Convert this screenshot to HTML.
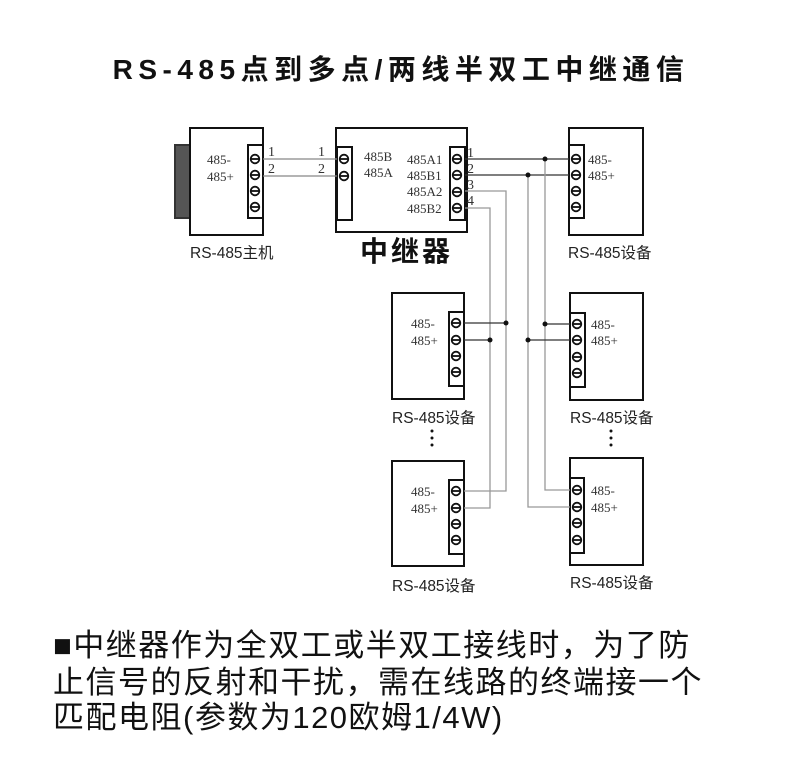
<!DOCTYPE html>
<html><head><meta charset="utf-8"><style>
body{margin:0;background:#fff;width:790px;height:760px;overflow:hidden}
svg{position:absolute;left:0;top:0}
.t{font-family:"Liberation Sans","Noto Sans CJK SC",sans-serif}
.s{font-family:"Liberation Serif","Noto Serif CJK SC",serif;font-size:13px;fill:#333}
</style></head><body>
<svg width="790" height="760" viewBox="0 0 790 760" xmlns="http://www.w3.org/2000/svg">
<defs>
<g id="sc"><circle r="4.3" fill="none" stroke="#111" stroke-width="1.8"/><line x1="-3.5" x2="3.5" y1="0" y2="0" stroke="#111" stroke-width="1.8"/></g>
</defs>
<text class="t" x="401" y="79" font-size="28" font-weight="bold" text-anchor="middle" letter-spacing="5.5" fill="#111">RS-485点到多点/两线半双工中继通信</text>

<g fill="none" stroke="#111" stroke-width="2">
<rect x="175" y="145" width="15" height="73" fill="#555" stroke="#333"/>
<rect x="190" y="128" width="73" height="107"/>
<rect x="248" y="145" width="15" height="73"/>
<rect x="336" y="128" width="131" height="104"/>
<rect x="337" y="147" width="15" height="73"/>
<rect x="450" y="147" width="15" height="73"/>
<rect x="569" y="128" width="74" height="107"/>
<rect x="569" y="145" width="15" height="73"/>
<rect x="392" y="293" width="72" height="106"/>
<rect x="449" y="312" width="15" height="74"/>
<rect x="570" y="293" width="73" height="107"/>
<rect x="570" y="313" width="15" height="74"/>
<rect x="392" y="461" width="72" height="105"/>
<rect x="449" y="480" width="15" height="74"/>
<rect x="570" y="458" width="73" height="107"/>
<rect x="570" y="478" width="14" height="75"/>
</g>
<g>
<use href="#sc" x="255" y="159"/><use href="#sc" x="255" y="175"/><use href="#sc" x="255" y="191"/><use href="#sc" x="255" y="207"/>
<use href="#sc" x="344" y="159"/><use href="#sc" x="344" y="176"/>
<use href="#sc" x="457" y="159"/><use href="#sc" x="457" y="175"/><use href="#sc" x="457" y="192"/><use href="#sc" x="457" y="208"/>
<use href="#sc" x="576" y="159"/><use href="#sc" x="576" y="175"/><use href="#sc" x="576" y="191"/><use href="#sc" x="576" y="207"/>
<use href="#sc" x="456" y="323"/><use href="#sc" x="456" y="340"/><use href="#sc" x="456" y="356"/><use href="#sc" x="456" y="372"/>
<use href="#sc" x="577" y="324"/><use href="#sc" x="577" y="340"/><use href="#sc" x="577" y="357"/><use href="#sc" x="577" y="373"/>
<use href="#sc" x="456" y="491"/><use href="#sc" x="456" y="508"/><use href="#sc" x="456" y="524"/><use href="#sc" x="456" y="540"/>
<use href="#sc" x="577" y="490"/><use href="#sc" x="577" y="507"/><use href="#sc" x="577" y="523"/><use href="#sc" x="577" y="540"/>
</g>
<g fill="none" stroke-width="1.3">
<path d="M263 159H337M263 176H337" stroke="#888"/>
<path d="M465 159H569M465 175H569" stroke="#333"/>
<path d="M465 191H506V491H464M465 208H490V508H464" stroke="#999"/>
<path d="M545 159V490H570M528 175V507H570" stroke="#999"/>
<path d="M464 323H506M464 340H490M545 324H570M528 340H570" stroke="#333"/>
</g>
<g fill="#111">
<circle cx="545" cy="159" r="2.5"/><circle cx="528" cy="175" r="2.5"/>
<circle cx="506" cy="323" r="2.5"/><circle cx="490" cy="340" r="2.5"/>
<circle cx="545" cy="324" r="2.5"/><circle cx="528" cy="340" r="2.5"/>
<circle cx="432" cy="431" r="1.5"/><circle cx="432" cy="438" r="1.5"/><circle cx="432" cy="445" r="1.5"/>
<circle cx="611" cy="431" r="1.5"/><circle cx="611" cy="438" r="1.5"/><circle cx="611" cy="445" r="1.5"/>
</g>
<g class="s">
<text x="207" y="164">485-</text><text x="207" y="181">485+</text>
<text x="268" y="156" font-size="14">1</text><text x="268" y="173" font-size="14">2</text>
<text x="318" y="156" font-size="14">1</text><text x="318" y="173" font-size="14">2</text>
<text x="364" y="161">485B</text><text x="364" y="177">485A</text>
<text x="407" y="164">485A1</text><text x="407" y="180">485B1</text><text x="407" y="196">485A2</text><text x="407" y="213">485B2</text>
<text x="467" y="157" font-size="14">1</text><text x="467" y="173" font-size="14">2</text><text x="467" y="189" font-size="14">3</text><text x="467" y="205" font-size="14">4</text>
<text x="588" y="164">485-</text><text x="588" y="180">485+</text>
<text x="411" y="328">485-</text><text x="411" y="345">485+</text>
<text x="591" y="329">485-</text><text x="591" y="345">485+</text>
<text x="411" y="496">485-</text><text x="411" y="513">485+</text>
<text x="591" y="495">485-</text><text x="591" y="512">485+</text>
</g>
<g class="t" font-size="15.5" fill="#222">
<text x="190" y="258">RS-485主机</text>
<text x="568" y="258">RS-485设备</text>
<text x="392" y="423">RS-485设备</text>
<text x="570" y="423">RS-485设备</text>
<text x="392" y="591">RS-485设备</text>
<text x="570" y="588">RS-485设备</text>
</g>
<text class="t" x="360" y="261" font-size="28" font-weight="bold" letter-spacing="3" fill="#111">中继器</text>
<g class="t" font-size="31" fill="#111" letter-spacing="1.5">
<text x="53" y="656">■中继器作为全双工或半双工接线时，为了防</text>
<text x="53" y="693">止信号的反射和干扰，需在线路的终端接一个</text>
<text x="53" y="728" letter-spacing="1.5">匹配电阻(参数为120欧姆1/4W)</text>
</g>
</svg>
</body></html>
